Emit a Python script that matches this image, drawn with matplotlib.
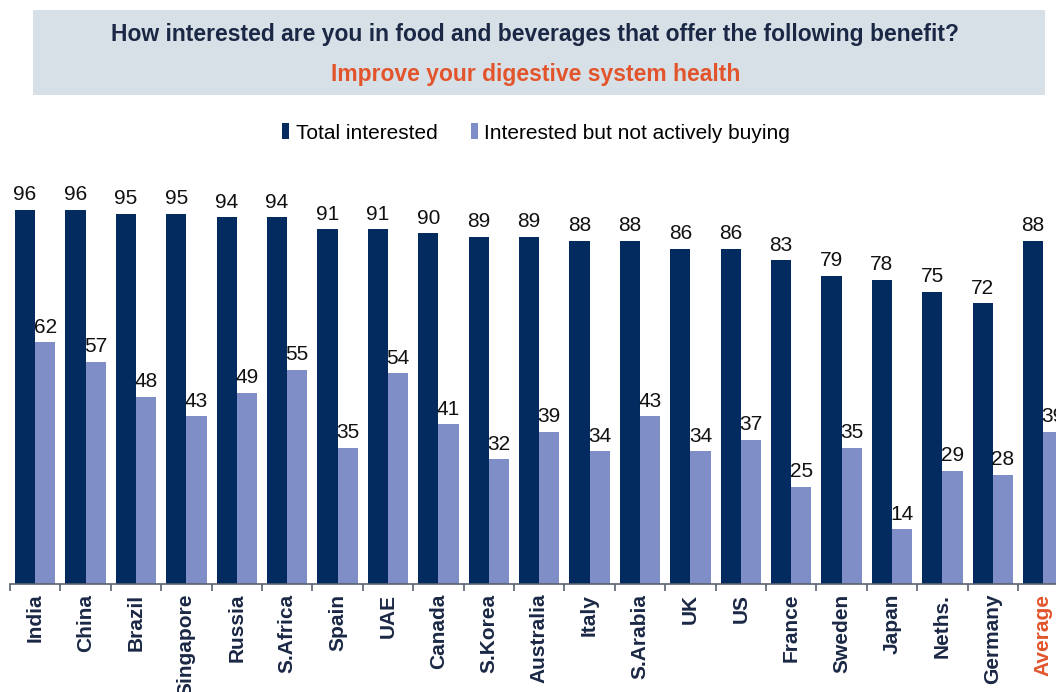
import numpy as np
import matplotlib
matplotlib.use('Agg')
import matplotlib.pyplot as plt
from matplotlib.patches import Rectangle

plt.rcParams['font.family'] = ['Liberation Sans', 'DejaVu Sans']

countries = ['India', 'China', 'Brazil', 'Singapore', 'Russia', 'S.Africa', 'Spain', 'UAE',
             'Canada', 'S.Korea', 'Australia', 'Italy', 'S.Arabia', 'UK', 'US', 'France',
             'Sweden', 'Japan', 'Neths.', 'Germany', 'Average']
total_interested = [96, 96, 95, 95, 94, 94, 91, 91, 90, 89, 89, 88, 88, 86, 86, 83, 79, 78, 75, 72, 88]
not_buying = [62, 57, 48, 43, 49, 55, 35, 54, 41, 32, 39, 34, 43, 34, 37, 25, 35, 14, 29, 28, 39]

navy = '#032b5f'
periwinkle = '#7f8ec6'
accent = '#e2552c'

W, H = 1056, 692
fig = plt.figure(figsize=(W / 100, H / 100), dpi=100)

# header band with the question and the benefit
fig.patches.append(Rectangle((33 / W, 1 - 95 / H), (1045 - 33) / W, (95 - 10) / H,
                             transform=fig.transFigure, facecolor='#d8e0e7',
                             edgecolor='none', zorder=0))
fig.text(0.507, 1 - 35 / H, 'How interested are you in food and beverages that offer the following benefit?',
         ha='center', va='center', fontsize=16.5, fontweight='bold', color='#1b2845')
fig.text(0.507, 1 - 74 / H, 'Improve your digestive system health',
         ha='center', va='center', fontsize=16.5, fontweight='bold', color=accent)

# axes run slightly past the right edge so the last group is cut off
ax = fig.add_axes([10 / W, 108 / H, 21 * 50.4 / W, 390 / H])
x = np.arange(len(countries))
w = 0.4
b1 = ax.bar(x - w / 2, total_interested, w, color=navy, label='Total interested')
b2 = ax.bar(x + w / 2, not_buying, w, color=periwinkle, label='Interested but not actively buying')

for rect, v in zip(b1, total_interested):
    ax.text(rect.get_x() + rect.get_width() / 2, v + 1.4, str(v), ha='center', va='bottom',
            fontsize=15, color='#111111')
for rect, v in zip(b2, not_buying):
    ax.text(rect.get_x() + rect.get_width() / 2, v + 1.4, str(v), ha='center', va='bottom',
            fontsize=15, color='#111111')

ax.set_xlim(-0.5, len(countries) - 0.5)
ax.set_ylim(0, 100)
ax.set_yticks([])
for s in ['top', 'right', 'left']:
    ax.spines[s].set_visible(False)
ax.spines['bottom'].set_color('#5a6170')
ax.spines['bottom'].set_linewidth(1.2)

ax.set_xticks(x)
ax.set_xticklabels(countries, rotation=90, fontsize=15, fontweight='bold', color='#1b2845')
ax.tick_params(axis='x', which='major', length=0, pad=7)
ax.set_xticks(np.arange(-0.5, len(countries), 1), minor=True)
ax.tick_params(axis='x', which='minor', length=5, width=1.2, color='#5a6170')
ax.get_xticklabels()[-1].set_color(accent)

fig.legend(handles=[b1, b2], loc='center', bbox_to_anchor=(536 / W, 1 - 133 / H), ncol=2,
           frameon=False, fontsize=15, handlelength=0.35, handleheight=0.8,
           handletextpad=0.3, columnspacing=1.6)

fig.savefig('out.png', dpi=100)
